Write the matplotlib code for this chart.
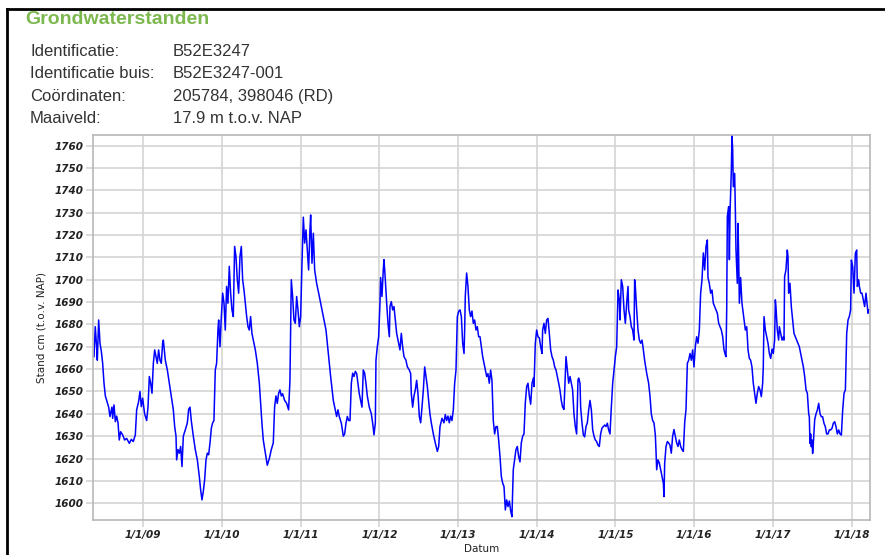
import matplotlib
matplotlib.use("Agg")
import matplotlib.pyplot as plt
from matplotlib.lines import Line2D

# ---- data (decimal year, groundwater level in cm t.o.v. NAP) ----
years = [
    2008.374, 2008.390, 2008.407, 2008.416, 2008.433, 2008.450, 2008.467, 2008.484, 2008.501, 2008.518,
    2008.535, 2008.560, 2008.577, 2008.602, 2008.611, 2008.628, 2008.645, 2008.662, 2008.679, 2008.695,
    2008.712, 2008.738, 2008.763, 2008.789, 2008.823, 2008.848, 2008.873, 2008.899, 2008.916, 2008.941,
    2008.958, 2008.975, 2008.992, 2009.017, 2009.043, 2009.060, 2009.077, 2009.094, 2009.111, 2009.128,
    2009.145, 2009.161, 2009.178, 2009.195, 2009.212, 2009.229, 2009.246, 2009.255, 2009.280, 2009.306,
    2009.331, 2009.356, 2009.382, 2009.399, 2009.416, 2009.424, 2009.441, 2009.458, 2009.475, 2009.492,
    2009.509, 2009.534, 2009.560, 2009.577, 2009.594, 2009.610, 2009.636, 2009.661, 2009.687, 2009.712,
    2009.729, 2009.746, 2009.763, 2009.780, 2009.797, 2009.814, 2009.831, 2009.848, 2009.865, 2009.882,
    2009.898, 2009.915, 2009.932, 2009.949, 2009.958,
    2009.975, 2009.992, 2010.009, 2010.026, 2010.042, 2010.059, 2010.076, 2010.093, 2010.110, 2010.127,
    2010.144, 2010.161, 2010.178, 2010.195, 2010.212, 2010.229, 2010.246, 2010.263, 2010.280, 2010.297,
    2010.314, 2010.331, 2010.347, 2010.364, 2010.381, 2010.398, 2010.424, 2010.449, 2010.475, 2010.491,
    2010.508, 2010.525, 2010.551, 2010.576, 2010.602, 2010.627, 2010.652, 2010.669, 2010.686, 2010.703,
    2010.720, 2010.737, 2010.754, 2010.771, 2010.796, 2010.822, 2010.847, 2010.864, 2010.881, 2010.898,
    2010.915, 2010.932, 2010.949, 2010.966, 2010.983, 2011.000, 2011.017, 2011.034, 2011.051, 2011.068,
    2011.085, 2011.101, 2011.118, 2011.127, 2011.144, 2011.161, 2011.178, 2011.203, 2011.229, 2011.254,
    2011.288, 2011.322, 2011.356, 2011.381, 2011.415, 2011.440, 2011.457, 2011.474, 2011.491, 2011.517,
    2011.542, 2011.559, 2011.576, 2011.593, 2011.610,
    2011.627, 2011.644, 2011.661, 2011.678, 2011.695, 2011.712, 2011.728, 2011.745, 2011.762, 2011.779,
    2011.796, 2011.813, 2011.830, 2011.847, 2011.872, 2011.898, 2011.915, 2011.932, 2011.949, 2011.957,
    2011.974, 2011.991, 2012.008, 2012.016, 2012.033, 2012.050, 2012.059, 2012.076, 2012.093, 2012.110,
    2012.127, 2012.135, 2012.152, 2012.169, 2012.186, 2012.203, 2012.220, 2012.245, 2012.262, 2012.279,
    2012.296, 2012.313, 2012.338, 2012.355, 2012.381, 2012.398, 2012.406, 2012.423, 2012.440, 2012.457,
    2012.474, 2012.491, 2012.508, 2012.525, 2012.542, 2012.559, 2012.576, 2012.593, 2012.610, 2012.626,
    2012.643, 2012.660, 2012.686, 2012.711, 2012.737, 2012.754, 2012.771, 2012.796, 2012.821, 2012.838,
    2012.855, 2012.872, 2012.889, 2012.906, 2012.923, 2012.940, 2012.957, 2012.974, 2012.991, 2013.008,
    2013.025, 2013.042, 2013.059, 2013.076, 2013.084, 2013.092, 2013.109, 2013.126, 2013.143, 2013.160,
    2013.177, 2013.194, 2013.211, 2013.228, 2013.245, 2013.262,
    2013.279, 2013.296, 2013.313, 2013.330, 2013.347, 2013.364, 2013.380, 2013.397, 2013.414, 2013.431,
    2013.440, 2013.448, 2013.465, 2013.482, 2013.499, 2013.516, 2013.533, 2013.550, 2013.567, 2013.584,
    2013.601, 2013.618, 2013.635, 2013.652, 2013.669, 2013.685, 2013.702, 2013.719, 2013.736, 2013.753,
    2013.770, 2013.787, 2013.804, 2013.821, 2013.838, 2013.855, 2013.872, 2013.889, 2013.906, 2013.923,
    2013.940, 2013.957, 2013.965, 2013.982, 2013.999, 2014.016, 2014.033, 2014.050, 2014.067, 2014.075,
    2014.092, 2014.109, 2014.126, 2014.143, 2014.160, 2014.177, 2014.194, 2014.211, 2014.228, 2014.245,
    2014.262, 2014.279, 2014.295, 2014.312, 2014.329, 2014.346, 2014.363, 2014.372, 2014.389, 2014.406,
    2014.423, 2014.440, 2014.456, 2014.473, 2014.490, 2014.507, 2014.524, 2014.533, 2014.550, 2014.558,
    2014.575, 2014.592, 2014.609, 2014.626, 2014.643, 2014.660, 2014.677, 2014.694, 2014.711, 2014.728,
    2014.744, 2014.761, 2014.778, 2014.795, 2014.812, 2014.829, 2014.846, 2014.863, 2014.880, 2014.897,
    2014.914, 2014.931,
    2014.948, 2014.965, 2014.982, 2014.999, 2015.016, 2015.033, 2015.049, 2015.058, 2015.075, 2015.092,
    2015.109, 2015.126, 2015.143, 2015.160, 2015.168, 2015.185, 2015.202, 2015.219, 2015.236, 2015.244,
    2015.253, 2015.270, 2015.287, 2015.304, 2015.321, 2015.338, 2015.355, 2015.371, 2015.397, 2015.422,
    2015.439, 2015.456, 2015.473, 2015.490, 2015.507, 2015.515, 2015.524, 2015.541, 2015.558, 2015.575,
    2015.592, 2015.609, 2015.617, 2015.626, 2015.643, 2015.660, 2015.676, 2015.693, 2015.710, 2015.727,
    2015.744, 2015.761, 2015.778, 2015.795, 2015.812, 2015.829, 2015.846, 2015.863, 2015.880, 2015.897,
    2015.914, 2015.931, 2015.948, 2015.965, 2015.981, 2015.998, 2016.015, 2016.032, 2016.049, 2016.066,
    2016.083, 2016.100, 2016.117, 2016.134, 2016.151, 2016.168, 2016.176, 2016.193, 2016.210, 2016.227,
    2016.244, 2016.261, 2016.278, 2016.295, 2016.312, 2016.329, 2016.346, 2016.363, 2016.380, 2016.397,
    2016.405, 2016.414, 2016.422, 2016.439, 2016.448, 2016.456, 2016.473, 2016.481, 2016.490, 2016.498,
    2016.515, 2016.524, 2016.532, 2016.549, 2016.558, 2016.566, 2016.575, 2016.591, 2016.608,
    2016.634, 2016.651, 2016.668, 2016.676, 2016.685, 2016.702, 2016.718, 2016.735, 2016.752, 2016.769,
    2016.786, 2016.803, 2016.820, 2016.837, 2016.854, 2016.871, 2016.879, 2016.888, 2016.905, 2016.922,
    2016.939, 2016.956, 2016.973, 2016.990, 2017.006, 2017.023, 2017.032, 2017.040, 2017.057, 2017.074,
    2017.083, 2017.100, 2017.117, 2017.134, 2017.142, 2017.150, 2017.167, 2017.184, 2017.193, 2017.201,
    2017.218, 2017.235, 2017.252, 2017.269, 2017.286, 2017.303, 2017.320, 2017.337, 2017.354, 2017.371,
    2017.388, 2017.405, 2017.422, 2017.439, 2017.456, 2017.464, 2017.472, 2017.481, 2017.489, 2017.498,
    2017.506, 2017.515, 2017.532, 2017.549, 2017.566, 2017.583, 2017.600, 2017.617, 2017.633, 2017.650,
    2017.667, 2017.684, 2017.701, 2017.718, 2017.735, 2017.752, 2017.769, 2017.786, 2017.803, 2017.820,
    2017.837, 2017.854, 2017.871, 2017.888, 2017.905, 2017.922, 2017.939, 2017.956, 2017.972, 2017.989,
    2017.998, 2018.015, 2018.032, 2018.049, 2018.066, 2018.074, 2018.091, 2018.100, 2018.117, 2018.133,
    2018.150, 2018.167, 2018.184, 2018.193, 2018.210, 2018.218,
]

stand_cm = [
    1665.6, 1679.0, 1670.0, 1664.0, 1682.0, 1671.6, 1668.0, 1662.6, 1653.7, 1648.0,
    1646.0, 1643.0, 1638.8, 1643.0, 1638.0, 1644.0, 1636.5, 1639.0, 1636.0, 1628.3,
    1632.0, 1630.6, 1628.3, 1629.0, 1626.8, 1628.6, 1627.6, 1630.6, 1641.8, 1645.5,
    1650.0, 1643.2, 1647.0, 1640.0, 1637.0, 1643.0, 1656.7, 1653.7, 1649.2, 1662.6,
    1668.6, 1665.6, 1662.6, 1668.6, 1664.0, 1662.6, 1671.6, 1673.0, 1664.0, 1659.6,
    1653.7, 1648.0, 1641.8, 1634.3, 1630.0, 1619.4, 1624.0, 1622.4, 1625.4, 1616.4,
    1630.0, 1632.8, 1636.0, 1642.0, 1643.0, 1637.0, 1630.0, 1624.0, 1619.4, 1612.0,
    1606.0, 1601.5, 1605.3, 1610.5, 1619.4, 1622.4, 1621.7, 1627.0, 1633.6, 1636.0,
    1637.0, 1659.6, 1662.6, 1677.5, 1682.0,
    1670.0, 1683.5, 1694.0, 1689.5, 1677.5, 1697.0, 1689.5, 1706.0, 1694.0, 1686.5,
    1683.5, 1714.9, 1710.4, 1700.0, 1694.0, 1710.4, 1714.9, 1700.0, 1695.4, 1689.5,
    1683.5, 1679.0, 1677.5, 1683.5, 1676.0, 1673.0, 1668.6, 1662.6, 1653.7, 1644.7,
    1635.8, 1628.3, 1622.4, 1617.0, 1620.0, 1624.0, 1627.0, 1643.0, 1648.0, 1644.7,
    1649.2, 1650.7, 1648.0, 1649.0, 1646.0, 1644.7, 1641.8, 1655.0, 1700.0, 1692.5,
    1682.0, 1680.5, 1692.5, 1686.5, 1679.0, 1683.5, 1707.4, 1728.0, 1716.4, 1722.3,
    1713.4, 1704.4, 1722.3, 1729.0, 1707.4, 1720.8, 1704.4, 1698.4, 1694.0, 1689.5,
    1683.5, 1677.5, 1665.6, 1656.7, 1646.0, 1641.8, 1638.8, 1641.8, 1638.8, 1635.8,
    1630.0, 1631.0, 1635.8, 1638.8, 1637.0,
    1637.0, 1653.7, 1658.2, 1656.7, 1659.0, 1658.0, 1653.7, 1649.0, 1646.0, 1643.0,
    1659.6, 1658.2, 1653.7, 1648.0, 1643.0, 1640.0, 1635.8, 1630.6, 1636.0, 1664.0,
    1670.0, 1674.5, 1689.5, 1701.0, 1692.5, 1704.4, 1709.0, 1700.0, 1689.5, 1680.5,
    1674.5, 1688.0, 1690.2, 1686.5, 1688.0, 1682.0, 1676.0, 1671.6, 1668.6, 1676.0,
    1670.0, 1665.6, 1664.0, 1661.1, 1659.6, 1658.0, 1649.2, 1643.0, 1648.0, 1650.7,
    1655.0, 1649.0, 1638.8, 1636.0, 1643.0, 1650.7, 1661.0, 1656.7, 1652.2, 1646.0,
    1640.0, 1636.0, 1631.0, 1627.0, 1623.2, 1625.4, 1634.3, 1638.0, 1636.0, 1639.7,
    1637.0, 1639.0, 1636.0, 1639.0, 1637.0, 1641.8, 1653.7, 1659.6, 1683.5, 1685.9,
    1686.5, 1683.5, 1671.6, 1667.0, 1677.5, 1692.5, 1703.0, 1697.0, 1686.5, 1683.5,
    1686.0, 1680.5, 1682.0, 1677.5, 1679.0, 1674.5,
    1674.5, 1670.0, 1665.6, 1662.6, 1659.6, 1656.7, 1658.0, 1653.7, 1659.6, 1655.0,
    1646.0, 1637.0, 1631.0, 1634.3, 1634.3, 1628.3, 1621.0, 1612.0, 1609.0, 1607.5,
    1597.0, 1601.5, 1598.5, 1601.0, 1596.5, 1594.0, 1615.0, 1619.4, 1624.0, 1625.4,
    1621.0, 1618.5, 1627.0, 1630.0, 1631.0, 1645.0, 1652.2, 1653.7, 1648.0, 1644.3,
    1653.7, 1656.0, 1652.2, 1671.6, 1677.5, 1674.5, 1674.0, 1670.0, 1667.0, 1677.5,
    1680.5, 1676.0, 1682.0, 1682.7, 1676.0, 1668.6, 1665.6, 1664.0, 1661.0, 1659.6,
    1656.7, 1653.7, 1650.7, 1646.0, 1643.0, 1642.0, 1656.7, 1665.6, 1659.6, 1653.7,
    1656.7, 1653.7, 1650.7, 1640.0, 1634.3, 1631.0, 1655.0, 1656.0, 1653.7, 1643.0,
    1636.0, 1630.6, 1629.7, 1634.3, 1636.0, 1641.8, 1646.0, 1641.8, 1632.8, 1630.0,
    1628.3, 1627.6, 1626.0, 1625.4, 1631.0, 1633.6, 1634.3, 1635.0, 1634.3, 1635.8,
    1632.8, 1631.0,
    1643.0, 1653.7, 1659.6, 1665.6, 1670.0, 1695.4, 1691.0, 1682.0, 1700.0, 1697.0,
    1686.5, 1680.5, 1689.5, 1697.0, 1686.5, 1683.5, 1679.0, 1677.5, 1673.0, 1700.0,
    1697.0, 1686.5, 1677.5, 1673.0, 1671.6, 1673.0, 1668.6, 1664.0, 1658.2, 1653.7,
    1648.0, 1640.0, 1637.0, 1636.0, 1630.6, 1624.0, 1615.0, 1619.4, 1618.0, 1615.0,
    1612.0, 1609.0, 1603.0, 1618.0, 1625.4, 1627.6, 1627.0, 1626.0, 1622.4, 1630.0,
    1633.0, 1630.0, 1627.0, 1625.4, 1628.3, 1625.4, 1624.0, 1623.2, 1636.0, 1642.0,
    1662.6, 1664.0, 1667.0, 1664.0, 1668.6, 1661.0, 1670.0, 1674.5, 1671.6, 1677.5,
    1694.0, 1700.0, 1712.0, 1704.4, 1714.9, 1717.8, 1701.0, 1698.4, 1694.0, 1695.4,
    1689.5, 1688.0, 1686.5, 1685.0, 1680.5, 1679.0, 1677.5, 1674.5, 1668.6, 1666.3,
    1665.6, 1686.5, 1728.2, 1732.7, 1709.0, 1729.7, 1749.0, 1764.8, 1758.0, 1741.6,
    1747.6, 1731.0, 1713.4, 1698.4, 1725.2, 1710.4, 1689.5, 1701.0, 1689.5,
    1682.0, 1677.5, 1679.0, 1674.5, 1668.6, 1664.8, 1664.0, 1661.0, 1653.7, 1649.2,
    1644.7, 1649.2, 1652.2, 1650.7, 1647.7, 1653.7, 1661.0, 1683.5, 1677.5, 1674.5,
    1671.6, 1667.0, 1664.8, 1669.0, 1667.0, 1673.0, 1691.0, 1688.0, 1677.5, 1673.0,
    1679.0, 1676.0, 1673.0, 1674.5, 1673.0, 1701.4, 1704.4, 1713.3, 1710.4, 1694.0,
    1698.4, 1688.0, 1682.0, 1676.0, 1674.5, 1673.0, 1671.6, 1670.0, 1667.0, 1664.0,
    1661.0, 1656.7, 1650.7, 1649.2, 1640.0, 1638.7, 1626.8, 1631.0, 1625.3, 1628.3,
    1622.3, 1626.8, 1637.3, 1640.0, 1641.7, 1644.7, 1640.0, 1638.7, 1638.7, 1635.8,
    1634.3, 1631.0, 1631.0, 1632.8, 1632.8, 1633.5, 1635.8, 1636.5, 1634.3, 1631.0,
    1632.8, 1631.0, 1630.5, 1641.7, 1649.2, 1650.7, 1676.0, 1682.0, 1683.5, 1686.5,
    1708.8, 1705.9, 1694.0, 1711.8, 1713.3, 1697.0, 1700.0, 1697.0, 1694.0, 1694.0,
    1691.0, 1688.0, 1694.0, 1691.0, 1685.0, 1686.5,
]

tick_years = [2009, 2010, 2011, 2012, 2013, 2014, 2015, 2016, 2017, 2018]
tick_labels = ["1/1/09", "1/1/10", "1/1/11", "1/1/12", "1/1/13",
               "1/1/14", "1/1/15", "1/1/16", "1/1/17", "1/1/18"]
y_ticks = list(range(1600, 1761, 10))

title = "Grondwaterstanden"
info_labels = ["Identificatie:", "Identificatie buis:", "Coördinaten:", "Maaiveld:"]
info_values = ["B52E3247", "B52E3247-001", "205784, 398046 (RD)", "17.9 m t.o.v. NAP"]

# ---- figure ----
W, H = 885, 555
fig = plt.figure(figsize=(W / 100, H / 100), dpi=100)
fig.patch.set_facecolor("white")

# outer black frame (left and top)
fig.add_artist(Line2D([7 / W, 7 / W], [0, 1 - 9 / H], color="black", lw=2.0))
fig.add_artist(Line2D([7 / W, 1], [1 - 9 / H, 1 - 9 / H], color="black", lw=2.0))

fig.text(25 / W, 1 - 19 / H, title, fontsize=14, fontweight="bold",
         color="#7cb84e", family="Liberation Sans", va="center", ha="left")
for i, (lab, val) in enumerate(zip(info_labels, info_values)):
    yc = 1 - (51.5 + i * 22.3) / H
    fig.text(30 / W, yc, lab, fontsize=12, color="#333333",
             family="Liberation Sans", va="center", ha="left")
    fig.text(173 / W, yc, val, fontsize=12, color="#333333",
             family="Liberation Sans", va="center", ha="left")

left, right, top, bottom = 93.3, 870.0, 134.7, 520.0
ax = fig.add_axes([left / W, 1 - bottom / H, (right - left) / W, (bottom - top) / H])

ax.plot(years, stand_cm, color="#0000ff", lw=1.1)

ax.set_xlim(2008.365, 2018.235)
ax.set_ylim(1592.5, 1764.9)
ax.set_xticks(tick_years)
ax.set_xticklabels(tick_labels)
ax.set_yticks(y_ticks)
ax.set_yticklabels([str(v) for v in y_ticks])

for lbl in ax.get_xticklabels() + ax.get_yticklabels():
    lbl.set_fontsize(7.5)
    lbl.set_fontweight("bold")
    lbl.set_fontstyle("italic")
    lbl.set_family("DejaVu Sans")
    lbl.set_color("#222222")

ax.grid(True, color="#d4d4d4", lw=1.2)
ax.set_axisbelow(True)
ax.tick_params(axis="both", length=5, width=1.2, color="#d4d4d4", pad=2)
for sp in ax.spines.values():
    sp.set_color("#b8b8b8")
    sp.set_linewidth(1.2)

ax.set_ylabel("Stand cm (t.o.v. NAP)", fontsize=7.5, color="#222222", labelpad=6)
ax.set_xlabel("Datum", fontsize=7.5, color="#222222", labelpad=3)

fig.savefig("out.png", dpi=100)
